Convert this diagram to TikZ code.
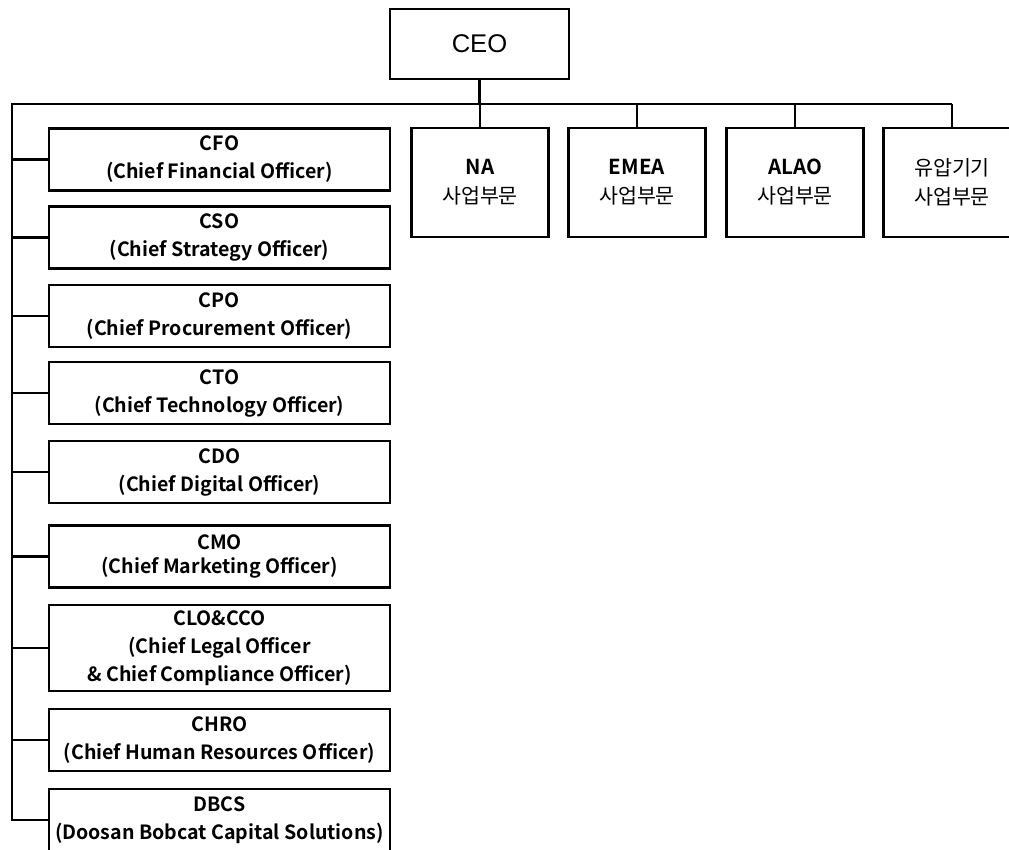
\documentclass[tikz,border=0pt]{standalone}
\usepackage{fontspec}
\setmainfont{Noto Sans CJK KR}[BoldFont={Noto Sans CJK KR Bold}]
\newfontfamily\ceofont{Liberation Sans}

\tikzset{
    box/.style={draw, rectangle, line width=1.45pt, align=center, inner sep=0pt},
    officer/.style={box, minimum width=170.5pt, minimum height=31pt,
                    font=\bfseries\fontsize{9.8}{14}\selectfont},
    division/.style={box, minimum width=68.5pt, minimum height=54.5pt,
                     font=\fontsize{10.3}{14.5}\selectfont},
}

\begin{document}
\begin{tikzpicture}[x=0.5pt, y=-0.5pt]
    \useasboundingbox (0,0) rectangle (1009,850);

    % top
    \node[box, minimum width=89.5pt, minimum height=35pt,
          font=\ceofont\fontsize{12.8}{15}\selectfont] (ceo) at (479.5,44) {CEO};

    % staff officers
    \node[officer] (cfo) at (219.5,159.5) {CFO\\(Chief Financial Officer)};
    \node[officer] (cso) at (219.5,237.5) {CSO\\(Chief Strategy Officer)};
    \node[officer] (cpo) at (219.5,316) {CPO\\(Chief Procurement Officer)};
    \node[officer] (cto) at (219.5,393) {CTO\\(Chief Technology Officer)};
    \node[officer] (cdo) at (219.5,472) {CDO\\(Chief Digital Officer)};
    \node[officer, font=\bfseries\fontsize{9.8}{12}\selectfont] (cmo) at (219.5,556.5) {CMO\\(Chief Marketing Officer)};
    \node[officer, minimum height=43pt] (clo) at (219.5,648) {CLO\&CCO\\(Chief Legal Officer\\\& Chief Compliance Officer)};
    \node[officer] (chro) at (219.5,740) {CHRO\\(Chief Human Resources Officer)};
    \node[officer] (dbcs) at (219.5,820) {DBCS\\(Doosan Bobcat Capital Solutions)};

    % business divisions
    \node[division] (na) at (480,182.5) {\textbf{NA}\\사업부문};
    \node[division] (emea) at (637,182.5) {\textbf{EMEA}\\사업부문};
    \node[division] (alao) at (795,182.5) {\textbf{ALAO}\\사업부문};
    \node[division] (hyd) at (952,182.5) {유압기기\\사업부문};

    % bus lines
    \coordinate (bus) at (12,104);
    \begin{scope}[line width=1.45pt]
        \draw (ceo.south) -- (ceo |- bus);
        \draw (hyd |- bus) -- (bus) |- (dbcs.west);
        \draw (bus |- cfo) -- (cfo.west);
        \draw (bus |- cso) -- (cso.west);
        \draw (bus |- cpo) -- (cpo.west);
        \draw (bus |- cto) -- (cto.west);
        \draw (bus |- cdo) -- (cdo.west);
        \draw (bus |- cmo) -- (cmo.west);
        \draw (bus |- clo) -- (clo.west);
        \draw (bus |- chro) -- (chro.west);
        \draw (na |- bus) -- (na.north);
        \draw (emea |- bus) -- (emea.north);
        \draw (alao |- bus) -- (alao.north);
        \draw (hyd |- bus) -- (hyd.north);
    \end{scope}
\end{tikzpicture}
\end{document}
